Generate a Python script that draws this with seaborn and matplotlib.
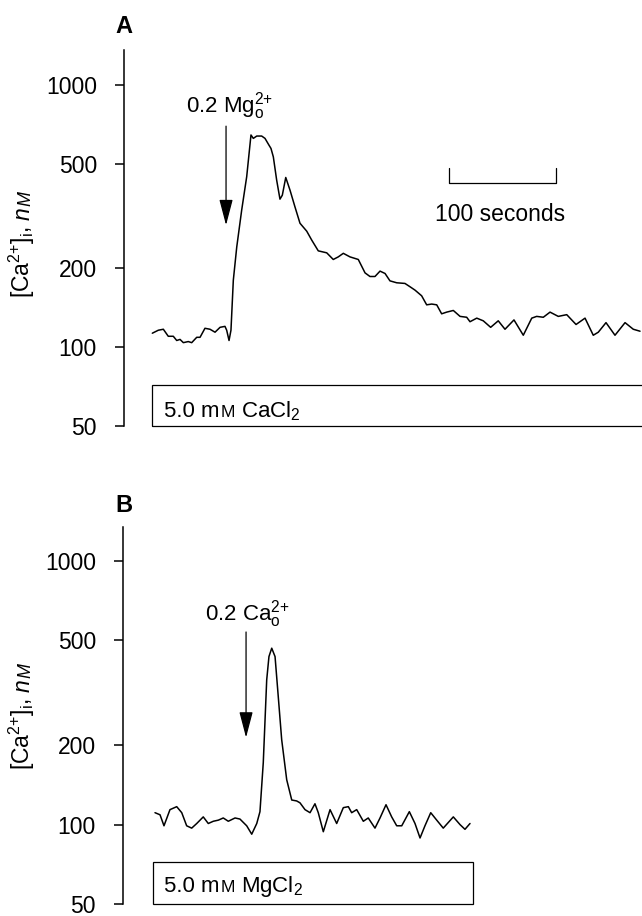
import matplotlib
matplotlib.use("Agg")
import matplotlib.pyplot as plt
import numpy as np
import pandas as pd
import seaborn as sns
from matplotlib.patches import Rectangle
from matplotlib.ticker import NullLocator
from matplotlib.transforms import IdentityTransform

# ---------------- data (time in s, [Ca2+]i in nM) ----------------
time_a = [0.3, 5.9, 10.6, 15.2, 19.9, 23.1, 26.2, 29.3, 33.9, 37.1,
          41.8, 44.9, 49.5, 54.2, 58.9, 63.6, 68.2, 69.8, 72.0, 73.8,
          76.0, 79.2, 83.8, 88.5, 92.5, 94.7, 97.9, 102.5, 105.6, 109.3,
          111.2, 113.4, 116.5, 119.6, 121.8, 125.0, 129.0, 133.6, 138.3, 144.6,
          149.3, 155.4, 163.3, 169.4, 174.1, 178.8, 185.0, 192.8, 199.1, 203.7,
          208.4, 213.1, 217.8, 222.4, 228.7, 236.4, 241.1, 245.8, 252.0, 256.7,
          261.4, 266.1, 270.7, 275.4, 281.6, 287.9, 294.1, 297.2, 303.5, 309.6,
          316.5, 323.6, 329.9, 338.3, 347.0, 354.9, 359.5, 365.7, 372.0, 379.7,
          387.6, 396.3, 404.7, 412.4, 417.1, 424.3, 432.7, 442.1, 449.8, 456.1]
ca_a = [113, 116, 117, 110, 110, 106, 107, 104, 105, 104,
        109, 109, 118, 117, 114, 119, 120, 116, 106, 116,
        180, 241, 333, 447, 645, 626, 639, 639, 626, 590,
        573, 532, 434, 367, 380, 444, 397, 343, 297, 277,
        256, 233, 229, 216, 221, 228, 221, 216, 192, 186,
        186, 195, 191, 179, 176, 175, 170, 165, 157, 145,
        146, 145, 134, 136, 138, 131, 130, 125, 129, 126,
        119, 126, 117, 127, 111, 129, 131, 130, 136, 131,
        133, 122, 129, 111, 114, 124, 111, 124, 117, 115]

time_b = [2.8, 7.5, 11.2, 16.8, 23.1, 27.8, 32.4, 37.1, 41.8, 47.9,
          52.6, 57.3, 62.0, 66.6, 71.3, 77.6, 82.2, 88.5, 93.2, 97.9,
          100.9, 104.0, 107.2, 109.3, 111.9, 115.0, 118.0, 121.2, 125.9, 130.6,
          135.2, 138.3, 143.0, 147.7, 152.3, 155.4, 160.1, 166.4, 172.6, 178.8,
          183.5, 186.6, 191.3, 197.5, 202.1, 208.4, 213.1, 218.7, 224.0, 228.7,
          233.4, 240.5, 245.8, 250.5, 255.1, 260.5, 266.1, 272.2, 281.6, 287.9,
          292.5, 297.2]
ca_b = [111, 109, 99, 114, 117, 111, 99, 97, 101, 107,
        101, 103, 104, 106, 103, 106, 105, 99, 92, 101,
        112, 172, 354, 434, 467, 434, 306, 210, 148, 124,
        123, 121, 114, 111, 120, 111, 94, 114, 101, 116,
        117, 111, 114, 103, 106, 97, 106, 119, 107, 99,
        99, 112, 101, 89, 99, 111, 104, 97, 107, 100,
        96, 101]

ytick_values = [50, 100, 200, 500, 1000]
ytick_labels = ["50", "100", "200", "500", "1000"]

# bath solution bars (start, end in s; bottom, top in nM)
box_a = (0.0, 470.0)
box_b = (1.0, 300.0)
box_y = (50, 72)

# stimulus arrows (time, tail value, tip value)
arrow_a = (69.2, 697, 292)
arrow_b = (87.9, 538, 214)

# time scale bar
scalebar_start, scalebar_len = 278, 100
scalebar_y, scalebar_tick_y = 423, 482

# ---------------- style ----------------
sns.set_theme(style="white")
plt.rcParams["font.family"] = ["Liberation Sans", "DejaVu Sans"]
plt.rcParams["mathtext.fontset"] = "custom"
plt.rcParams["mathtext.rm"] = "Liberation Sans"
plt.rcParams["mathtext.it"] = "Liberation Sans:italic"
plt.rcParams["mathtext.bf"] = "Liberation Sans:bold"
plt.rcParams["text.color"] = "black"

W, H = 642, 916
fig = plt.figure(figsize=(W / 100, H / 100), dpi=100)
fig.patch.set_facecolor("white")
renderer = fig.canvas.get_renderer()


def chain(x, y, pieces, rotation=0):
    """Place text pieces one after another (pixel coords, origin top-left)."""
    pos = 0.0
    yd = H - y
    for s, kw, gap in pieces:
        pos += gap
        if rotation == 0:
            t = fig.text(x + pos, yd, s, transform=IdentityTransform(),
                         ha="left", va="baseline", **kw)
            pos += t.get_window_extent(renderer).width
        else:
            t = fig.text(x, yd + pos, s, transform=IdentityTransform(),
                         rotation=90, rotation_mode="anchor",
                         ha="left", va="baseline", **kw)
            pos += t.get_window_extent(renderer).height


def panel(rect, t, v, xlim, ylim, box, arrow):
    ax = fig.add_axes(rect)
    ax.set_facecolor("none")
    df = pd.DataFrame({"time": t, "ca": v})
    sns.lineplot(data=df, x="time", y="ca", ax=ax, color="black",
                 lw=1.1, estimator=None, sort=False)
    ax.set_yscale("log")
    ax.set_xlim(*xlim)
    ax.set_ylim(*ylim)
    ax.set_yticks(ytick_values)
    ax.set_yticklabels(ytick_labels)
    ax.yaxis.set_minor_locator(NullLocator())
    ax.set_xticks([])
    ax.set_xlabel("")
    ax.set_ylabel("")
    for side in ["top", "right", "bottom"]:
        ax.spines[side].set_visible(False)
    ax.spines["left"].set_linewidth(1.1)
    ax.spines["left"].set_color("black")
    ax.spines["left"].set_bounds(ylim[0], ylim[1])
    ax.tick_params(axis="y", which="major", left=True, direction="out",
                   length=6.5, width=1.1, pad=13, labelsize=16.5,
                   colors="black")
    ax.add_patch(Rectangle((box[0], box_y[0]), box[1] - box[0],
                           box_y[1] - box_y[0], fill=False, ec="black",
                           lw=0.9, clip_on=False))
    ax.annotate("", xy=(arrow[0], arrow[2]), xytext=(arrow[0], arrow[1]),
                arrowprops=dict(arrowstyle="-|>,head_length=16,head_width=4.2",
                                mutation_scale=1, lw=0.9, color="black",
                                shrinkA=0, shrinkB=0))
    return ax


x_per_s = 1.07
xlim_a = ((124 - 152) / x_per_s, (642 - 152) / x_per_s)
xlim_b = ((123 - 152) / x_per_s, (642 - 152) / x_per_s)

ax_a = panel([124 / W, 1 - 426 / H, (W - 124) / W, (426 - 50) / H],
             time_a, ca_a, xlim_a, (50, 1361), box_a, arrow_a)
ax_b = panel([123 / W, 1 - 904 / H, (W - 123) / W, (904 - 527) / H],
             time_b, ca_b, xlim_b, (50, 1346), box_b, arrow_b)

# scale bar
ax_a.plot([scalebar_start, scalebar_start, scalebar_start + scalebar_len,
           scalebar_start + scalebar_len],
          [scalebar_tick_y, scalebar_y, scalebar_y, scalebar_tick_y],
          color="black", lw=0.9)

# panel letters
fig.text(124 / W, 1 - 33 / H, "A", ha="center", va="baseline",
         fontsize=17, fontweight="bold")
fig.text(124 / W, 1 - 512 / H, "B", ha="center", va="baseline",
         fontsize=17, fontweight="bold")

# annotations
fig.text(186 / W, 1 - 112 / H, r"0.2 Mg$_{\mathrm{o}}^{2{+}}$", ha="left",
         va="baseline", fontsize=16)
fig.text(205 / W, 1 - 620 / H, r"0.2 Ca$_{\mathrm{o}}^{2{+}}$", ha="left",
         va="baseline", fontsize=16)
fig.text(435 / W, 1 - 221 / H, "100 seconds", ha="left", va="baseline",
         fontsize=16.5)

# bath labels
chain(164, 417, [("5.0 m", dict(fontsize=16), 0),
                 ("M", dict(fontsize=12.5), 1),
                 (r"CaCl$_2$", dict(fontsize=16), 6)])
chain(164, 892, [("5.0 m", dict(fontsize=16), 0),
                 ("M", dict(fontsize=12.5), 1),
                 (r"MgCl$_2$", dict(fontsize=16), 6)])

# y labels
for y0 in (298, 770):
    chain(30, y0, [(r"[Ca$^{2{+}}$]$_{\mathrm{i}}$,", dict(fontsize=16.5), 0),
                   ("n", dict(fontsize=16.5, style="italic"), 6),
                   ("M", dict(fontsize=13, style="italic"), 1)],
          rotation=90)

fig.savefig("out.png", dpi=100)
